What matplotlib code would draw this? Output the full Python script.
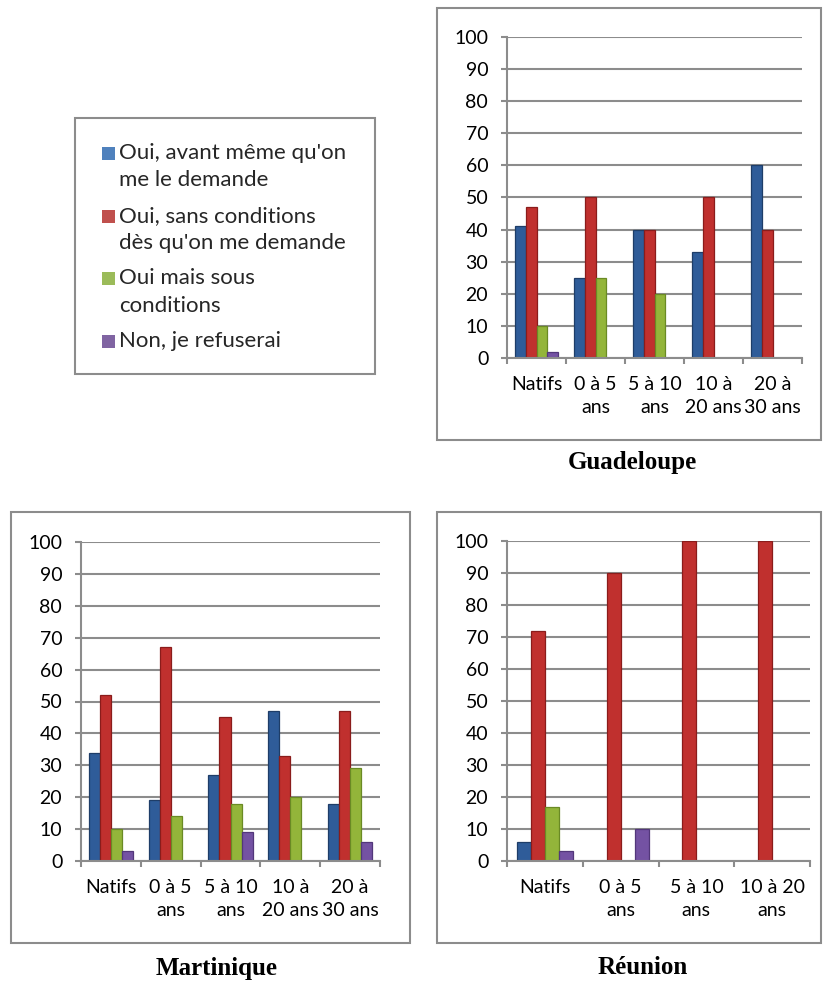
import numpy as np
import matplotlib
matplotlib.use('Agg')
import matplotlib.pyplot as plt
from matplotlib.patches import Rectangle

W, H = 824, 981

# données (en %)
series = ["Oui, avant même qu'on\nme le demande",
          "Oui, sans conditions\ndès qu'on me demande",
          "Oui mais sous\nconditions",
          "Non, je refuserai"]
couleurs = ['#2f5c99', '#c0302e', '#93b53a', '#7452a3']
bords = ['#1e3d68', '#8a1c1b', '#6a8a24', '#52377a']
couleurs_legende = ['#4f81bd', '#c0504d', '#9bbb59', '#8064a2']

cats_5 = ['Natifs', '0 à 5\nans', '5 à 10\nans', '10 à\n20 ans', '20 à\n30 ans']
cats_reunion = ['Natifs', '0 à 5\nans', '5 à 10\nans', '10 à 20\nans']

guadeloupe = [[41, 25, 40, 33, 60],
              [47, 50, 40, 50, 40],
              [10, 25, 20, 0, 0],
              [2, 0, 0, 0, 0]]
martinique = [[34, 19, 27, 47, 18],
              [52, 67, 45, 33, 47],
              [10, 14, 18, 20, 29],
              [3, 0, 9, 0, 6]]
reunion = [[6, 0, 0, 0],
           [72, 90, 100, 100],
           [17, 0, 0, 0],
           [3, 10, 0, 0]]

gris = '#8c8c8c'
police = 'Lato'


def px_box(l, t, r, b):
    return [l / W, 1 - b / H, (r - l) / W, (b - t) / H]


def cadre(fig, l, t, r, b):
    fig.patches.append(Rectangle((l / W, 1 - b / H), (r - l) / W, (b - t) / H,
                                 transform=fig.transFigure, fill=False,
                                 edgecolor=gris, linewidth=1.5))


def graphe(fig, pos, cats, valeurs):
    ax = fig.add_axes(px_box(*pos))
    n = len(cats)
    x = np.arange(n)
    w = 0.185
    for i, vals in enumerate(valeurs):
        lw = [0.9 if v > 0 else 0 for v in vals]
        ax.bar(x + (i - 1.5) * w, vals, width=w, color=couleurs[i],
               edgecolor=bords[i], linewidth=lw)
    ax.set_xlim(-0.5, n - 0.5)
    ax.set_ylim(0, 100)
    ax.set_yticks(range(0, 101, 10))
    ax.set_xticks(np.arange(n + 1) - 0.5)
    ax.set_xticklabels([])
    ax.set_xticks(x, labels=cats, minor=True)
    ax.yaxis.grid(True, color=gris, linewidth=1.5)
    ax.set_axisbelow(True)
    for s in ['top', 'right']:
        ax.spines[s].set_visible(False)
    for s in ['left', 'bottom']:
        ax.spines[s].set_color(gris)
        ax.spines[s].set_linewidth(1.5)
    ax.tick_params(axis='y', length=4.5, width=1.5, color=gris, pad=9,
                   labelsize=14, labelfontfamily=police)
    ax.tick_params(axis='x', which='major', length=4.5, width=1.5, color=gris)
    ax.tick_params(axis='x', which='minor', length=0, pad=13,
                   labelsize=14, labelfontfamily=police)
    for t in ax.get_xticklabels(minor=True):
        t.set_linespacing(1.45)
    return ax


fig = plt.figure(figsize=(W / 100, H / 100), dpi=100)

# cadres des graphiques
cadre(fig, 437, 8, 821, 440)
cadre(fig, 11, 512, 410, 943)
cadre(fig, 437, 512, 821, 943)

graphe(fig, (507, 37, 802, 358), cats_5, guadeloupe)
graphe(fig, (81, 542, 380, 861), cats_5, martinique)
graphe(fig, (507, 541, 810, 861), cats_reunion, reunion)

titre = dict(fontsize=18, fontweight='bold', family='Liberation Serif',
             ha='center', va='center')
fig.text(632 / W, 1 - 462 / H, 'Guadeloupe', **titre)
fig.text(217 / W, 1 - 968 / H, 'Martinique', **titre)
fig.text(643 / W, 1 - 968 / H, 'Réunion', **titre)

# légende
cadre(fig, 75, 118, 375, 374)
for i, lab in enumerate(series):
    y0 = 153 + i * 62.7
    fig.patches.append(Rectangle((102 / W, 1 - (y0 + 7) / H), 13 / W, 13 / H,
                                 transform=fig.transFigure,
                                 facecolor=couleurs_legende[i], linewidth=0))
    for j, ligne in enumerate(lab.split('\n')):
        fig.text(119 / W, 1 - (y0 + j * 27.5) / H, ligne, fontsize=16,
                 family=police, color='#262626', ha='left', va='center')

plt.savefig('out.png', dpi=100)
